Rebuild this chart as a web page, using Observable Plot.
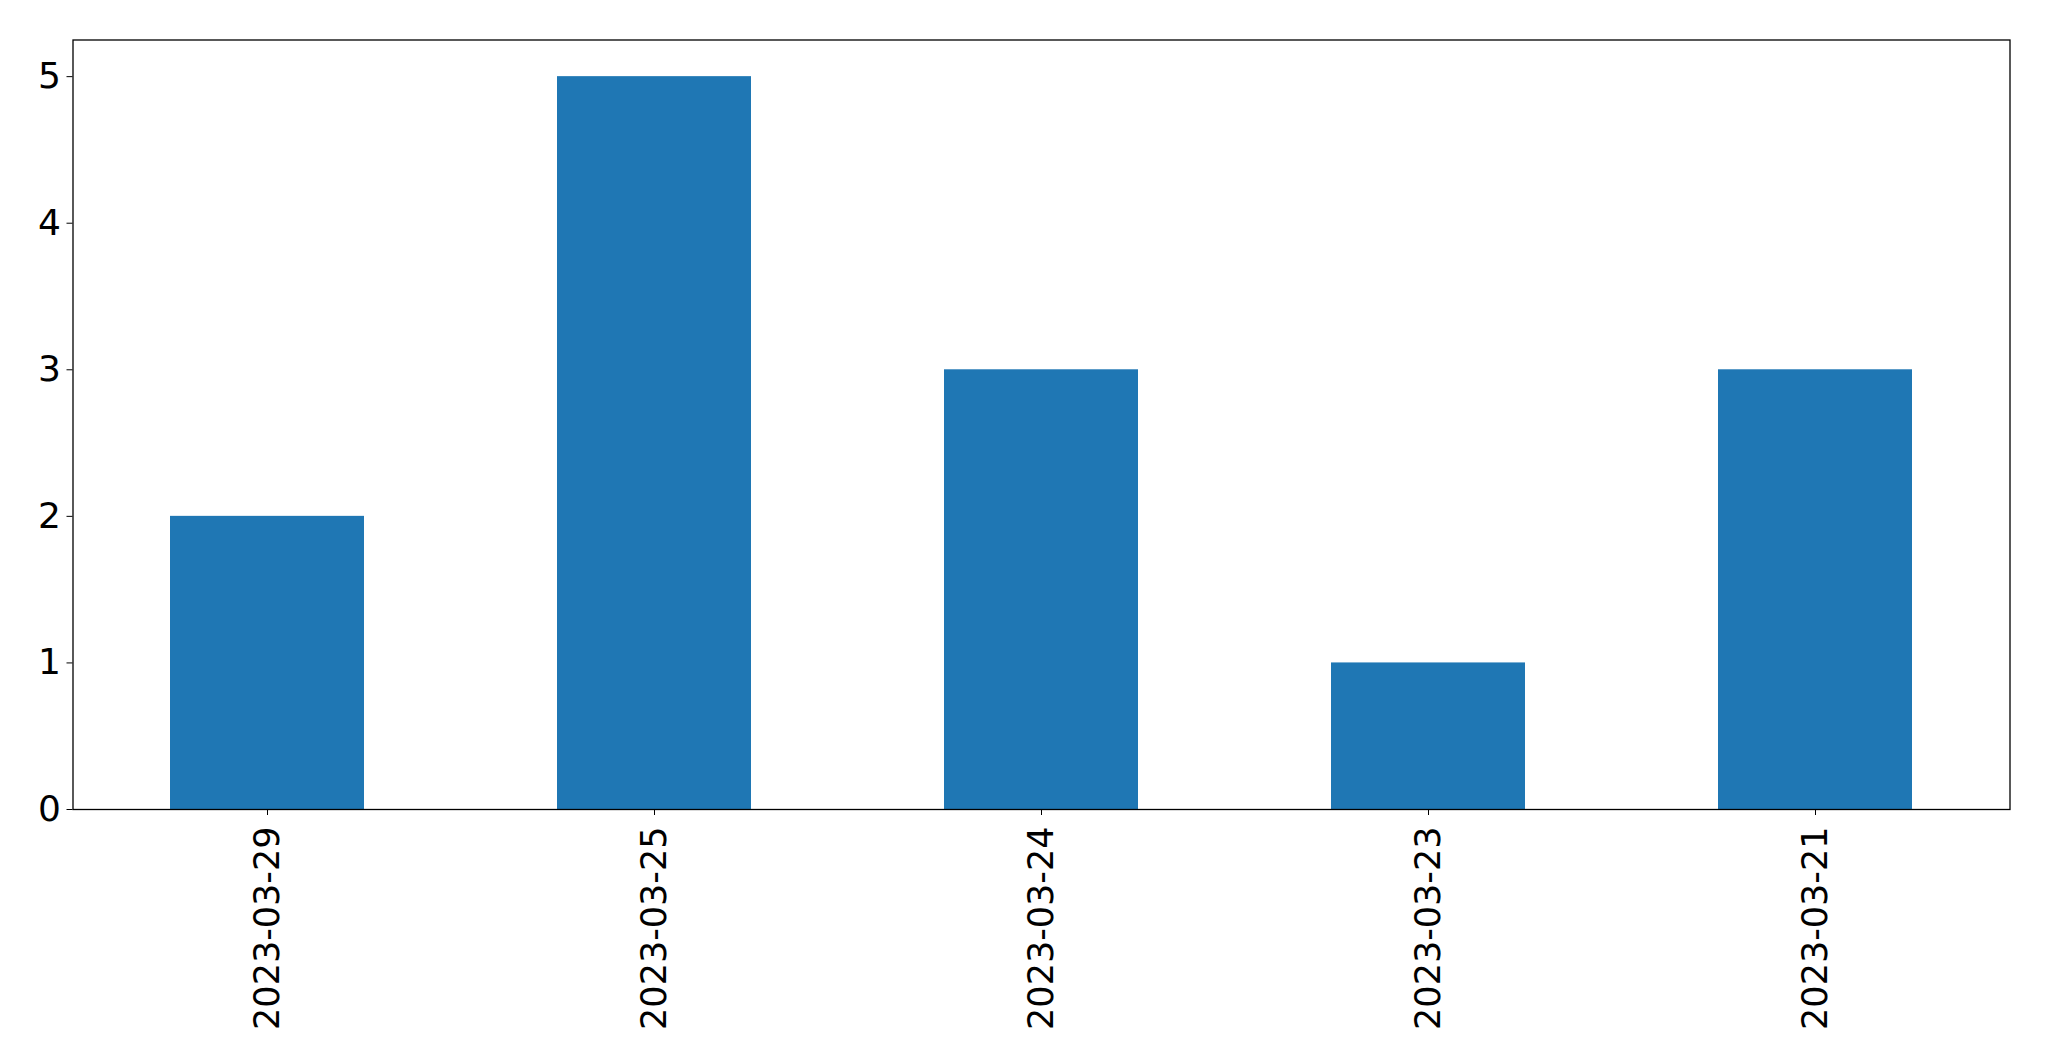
<!DOCTYPE html>
<html>
<head>
<meta charset="utf-8">
<script src="https://cdn.jsdelivr.net/npm/d3@7"></script>
<script src="https://cdn.jsdelivr.net/npm/@observablehq/plot@0.6"></script>
<style>
  html, body { margin: 0; padding: 0; background: #fff; }
  svg { display: block; }
</style>
</head>
<body>
<div id="chart"></div>
<script>
const dates = ["2023-03-29", "2023-03-25", "2023-03-24", "2023-03-23", "2023-03-21"];
const counts = [2, 5, 3, 1, 3];
const yTicks = [0, 1, 2, 3, 4, 5];

const data = dates.map((d, i) => ({date: d, count: counts[i]}));

const chart = Plot.plot({
  width: 2049,
  height: 1061,
  marginLeft: 72.5,
  marginRight: 39.5,
  marginTop: 39.5,
  marginBottom: 252,
  style: {fontFamily: "DejaVu Sans", fontSize: "35px", color: "#000", background: "#fff"},
  x: {type: "band", domain: dates, paddingInner: 0.5, paddingOuter: 0.25, label: null},
  y: {domain: [0, 5.25], label: null},
  marks: [
    Plot.barY(data, {x: "date", y: "count", fill: "#1f77b4"}),
    Plot.axisY({ticks: yTicks, tickSize: 6, tickPadding: 6, tickFormat: d => String(d), label: null, fontSize: 36}),
    Plot.axisX({tickSize: 6, tickPadding: 11, tickRotate: -90, label: null, fontSize: 35}),
    Plot.frame({stroke: "#000", strokeWidth: 1.3})
  ]
});
document.getElementById("chart").appendChild(chart);
</script>
</body>
</html>
